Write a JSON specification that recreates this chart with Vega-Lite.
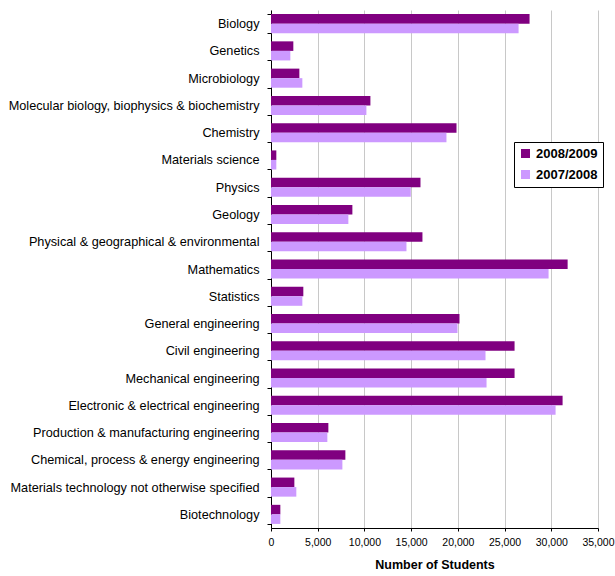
{
  "$schema": "https://vega.github.io/schema/vega-lite/v6.json",
  "autosize": "none",
  "width": 327,
  "height": 518,
  "padding": {"left": 271, "top": 10, "right": 17, "bottom": 48},
  "background": "white",
  "config": {
    "font": "Liberation Sans",
    "view": {"stroke": null},
    "axis": {"labelFont": "Liberation Sans", "titleFont": "Liberation Sans", "labelColor": "#000", "titleColor": "#000"}
  },
  "data": {
    "values": [
      {"subject": "Biology", "year": "2008/2009", "students": 27675},
      {"subject": "Biology", "year": "2007/2008", "students": 26500},
      {"subject": "Genetics", "year": "2008/2009", "students": 2390},
      {"subject": "Genetics", "year": "2007/2008", "students": 2070},
      {"subject": "Microbiology", "year": "2008/2009", "students": 3035},
      {"subject": "Microbiology", "year": "2007/2008", "students": 3355},
      {"subject": "Molecular biology, biophysics & biochemistry", "year": "2008/2009", "students": 10640},
      {"subject": "Molecular biology, biophysics & biochemistry", "year": "2007/2008", "students": 10210},
      {"subject": "Chemistry", "year": "2008/2009", "students": 19855},
      {"subject": "Chemistry", "year": "2007/2008", "students": 18780},
      {"subject": "Materials science", "year": "2008/2009", "students": 570},
      {"subject": "Materials science", "year": "2007/2008", "students": 570},
      {"subject": "Physics", "year": "2008/2009", "students": 16000},
      {"subject": "Physics", "year": "2007/2008", "students": 14960},
      {"subject": "Geology", "year": "2008/2009", "students": 8710},
      {"subject": "Geology", "year": "2007/2008", "students": 8280},
      {"subject": "Physical & geographical & environmental ", "year": "2008/2009", "students": 16210},
      {"subject": "Physical & geographical & environmental ", "year": "2007/2008", "students": 14500},
      {"subject": "Mathematics", "year": "2008/2009", "students": 31750},
      {"subject": "Mathematics", "year": "2007/2008", "students": 29710},
      {"subject": "Statistics", "year": "2008/2009", "students": 3460},
      {"subject": "Statistics", "year": "2007/2008", "students": 3355},
      {"subject": "General engineering", "year": "2008/2009", "students": 20175},
      {"subject": "General engineering", "year": "2007/2008", "students": 19960},
      {"subject": "Civil engineering", "year": "2008/2009", "students": 26070},
      {"subject": "Civil engineering", "year": "2007/2008", "students": 22960},
      {"subject": "Mechanical engineering", "year": "2008/2009", "students": 26070},
      {"subject": "Mechanical engineering", "year": "2007/2008", "students": 23070},
      {"subject": "Electronic & electrical engineering", "year": "2008/2009", "students": 31210},
      {"subject": "Electronic & electrical engineering", "year": "2007/2008", "students": 30460},
      {"subject": "Production & manufacturing engineering", "year": "2008/2009", "students": 6140},
      {"subject": "Production & manufacturing engineering", "year": "2007/2008", "students": 6030},
      {"subject": "Chemical, process & energy engineering", "year": "2008/2009", "students": 7960},
      {"subject": "Chemical, process & energy engineering", "year": "2007/2008", "students": 7640},
      {"subject": "Materials technology not otherwise specified", "year": "2008/2009", "students": 2500},
      {"subject": "Materials technology not otherwise specified", "year": "2007/2008", "students": 2710},
      {"subject": "Biotechnology", "year": "2008/2009", "students": 1000},
      {"subject": "Biotechnology", "year": "2007/2008", "students": 1000}
    ]
  },
  "mark": {"type": "bar"},
  "encoding": {
    "y": {
      "field": "subject",
      "type": "nominal",
      "sort": null,
      "scale": {"paddingInner": 0.3, "paddingOuter": 0.15},
      "axis": {
        "title": null,
        "tickBand": "extent",
        "labelLimit": 320,
        "labelFontSize": 12.7,
        "labelPadding": 8,
        "tickSize": 4,
        "tickColor": "#000",
        "domainColor": "#000",
        "grid": false
      }
    },
    "yOffset": {
      "field": "year",
      "type": "nominal",
      "sort": ["2008/2009", "2007/2008"],
      "scale": {"paddingInner": 0, "paddingOuter": 0}
    },
    "x": {
      "field": "students",
      "type": "quantitative",
      "scale": {"domain": [0, 35000], "nice": false},
      "axis": {
        "title": "Number of Students",
        "titleFontSize": 12.5,
        "titleFontWeight": "bold",
        "titlePadding": 11,
        "values": [0, 5000, 10000, 15000, 20000, 25000, 30000, 35000],
        "format": ",d",
        "labelFlush": false,
        "labelOverlap": false,
        "labelFontSize": 10.5,
        "labelPadding": 6,
        "tickSize": 3,
        "tickColor": "#000",
        "domainColor": "#000",
        "gridColor": "#c8c8c8",
        "gridWidth": 1
      }
    },
    "color": {
      "field": "year",
      "type": "nominal",
      "scale": {"domain": ["2008/2009", "2007/2008"], "range": ["#800080", "#CC99FF"]},
      "legend": {
        "title": null,
        "orient": "none",
        "legendX": 243,
        "legendY": 132,
        "labelFontSize": 13,
        "labelFontWeight": "bold",
        "labelColor": "#000",
        "symbolType": "square",
        "symbolSize": 81,
        "symbolStrokeWidth": 0,
        "rowPadding": 7,
        "padding": 5,
        "strokeColor": "#000",
        "fillColor": "white"
      }
    }
  }
}
